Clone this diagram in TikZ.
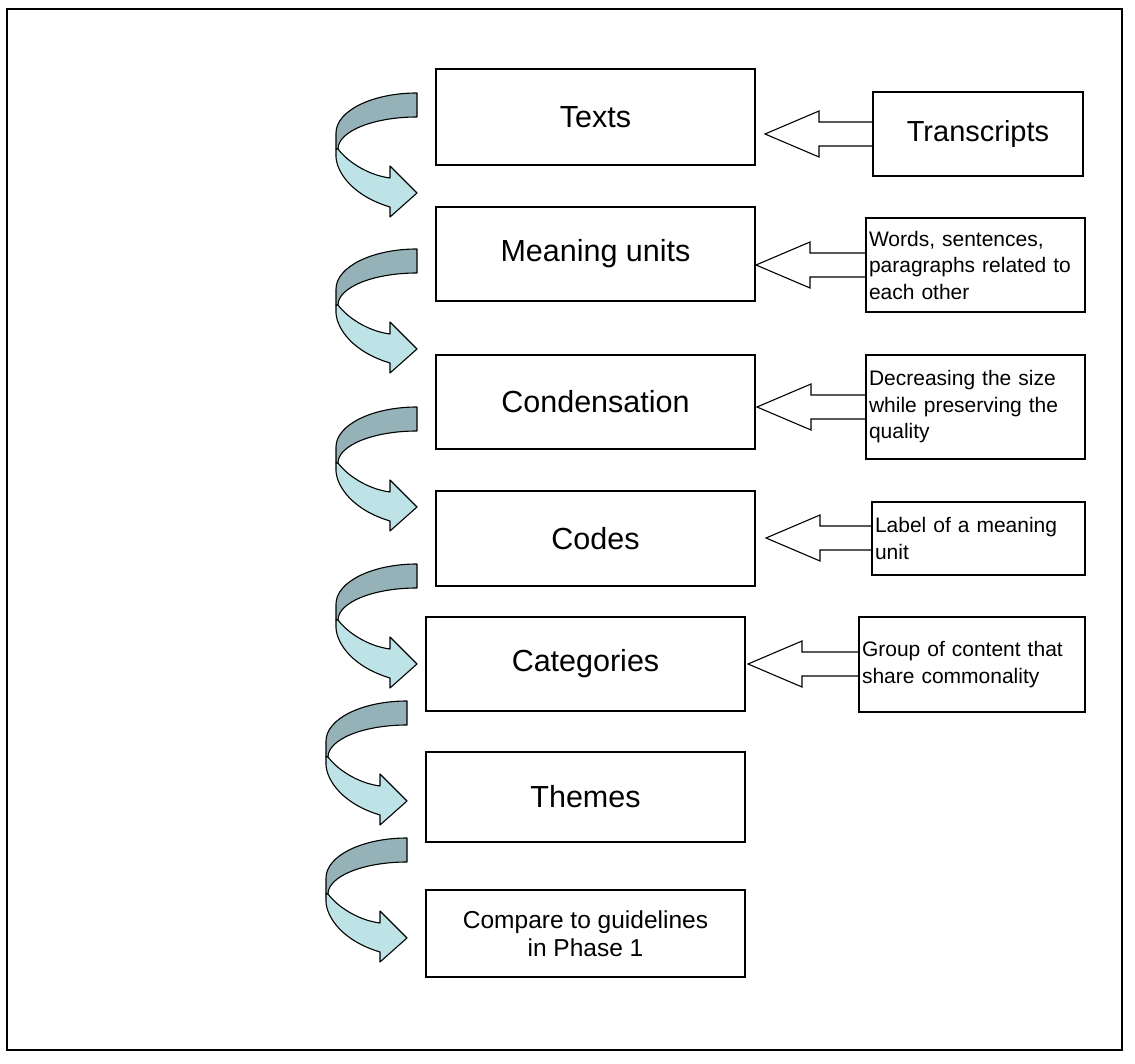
\documentclass[tikz,border=0pt]{standalone}
\usepackage{fontspec}
\setmainfont{Liberation Sans}
\usetikzlibrary{calc}
\definecolor{ribdark}{RGB}{148,178,183}
\definecolor{riblight}{RGB}{189,227,230}
\tikzset{
  mainbox/.style={draw, line width=1.2pt, minimum width=319pt, inner sep=0pt,
    align=center, font=\fontsize{30.5}{34}\selectfont},
  smallmain/.style={mainbox, font=\fontsize{24.5}{27.5}\selectfont},
  labbox/.style={draw, line width=1.2pt, inner sep=3pt, align=left,
    font=\fontsize{21}{26.5}\selectfont},
  bigbox/.style={draw, line width=1.2pt, inner sep=0pt, align=center,
    font=\fontsize{29}{33}\selectfont},
  blk/.style={draw, line width=1.1pt, line join=miter},
  rib/.style={draw, line width=1.1pt, line join=round},
  pics/ribbon/.style={code={
    \filldraw[rib, fill=ribdark] (0,0) -- (0,24)
      .. controls (-43.6,24) and (-79,38.3) .. (-79,56) -- (-81,56) -- (-81,40)
      .. controls (-81,18) and (-45,0) .. (0,0) -- cycle;
    \filldraw[rib, fill=riblight] (-79,56)
      .. controls (-70,68) and (-50,82) .. (-27,85) -- (-27,73) -- (0,100)
      -- (-27,124) -- (-27,114)
      .. controls (-64,103) and (-80,80) .. (-81,64) -- (-81,56) -- cycle;
  }}
}
\newcommand\blockarrow[2]{%
  \draw[blk] ($(#1 -| #2.west)+(0,-12)$) -- ($(#1)+(54,-12)$) -- ($(#1)+(54,-23)$)
    -- (#1) -- ($(#1)+(54,23)$) -- ($(#1)+(54,12)$) -- ($(#1 -| #2.west)+(0,12)$);}
\begin{document}
\begin{tikzpicture}[x=1pt, y=-1pt]
\useasboundingbox (0,0) rectangle (1135,1064);
\draw[line width=2pt] (7,9) rectangle (1122,1050);

% main column
\node[mainbox, minimum height=96pt] (texts) at (595.5,117) {Texts};
\node[mainbox, minimum height=94pt] (meaning) at (595.5,254) {Meaning units};
\node[mainbox, minimum height=94pt] (cond) at (595.5,402) {Condensation};
\node[mainbox, minimum height=95pt] (codes) at (595.5,538.5) {Codes};
\node[mainbox, minimum height=94pt] (cats) at (585.5,664) {Categories};
\node[mainbox, minimum height=90pt] (themes) at (585.5,797) {Themes};
\node[smallmain, minimum height=87pt] (comp) at (585.5,933.5) {Compare to guidelines\\in Phase 1};

% right labels
\node[bigbox, minimum width=210pt, minimum height=84pt] (trans) at (978,134) {Transcripts};
\node[labbox, text width=213pt, minimum height=94pt] (words) at (975.5,265)
  {Words, sentences,\\paragraphs related to\\each other};
\node[labbox, text width=213pt, minimum height=104pt] (decr) at (975.5,407)
  {Decreasing the size\\while preserving the\\quality};
\node[labbox, text width=207pt, minimum height=73pt] (labl) at (978.5,538.5)
  {Label of a meaning\\unit};
\node[labbox, text width=220pt, minimum height=95pt] (grp) at (972,664.5)
  {Group of content that\\share commonality};

% block arrows
\coordinate (t1) at (765,134);
\coordinate (t2) at (756,265);
\coordinate (t3) at (757,407);
\coordinate (t4) at (766,538);
\coordinate (t5) at (748,664);
\blockarrow{t1}{trans}
\blockarrow{t2}{words}
\blockarrow{t3}{decr}
\blockarrow{t4}{labl}
\blockarrow{t5}{grp}

% curved ribbon arrows
\pic at (417,93) {ribbon};
\pic at (417,249) {ribbon};
\pic at (417,407) {ribbon};
\pic at (417,564) {ribbon};
\pic at (407,701) {ribbon};
\pic at (407,838) {ribbon};
\end{tikzpicture}
\end{document}
